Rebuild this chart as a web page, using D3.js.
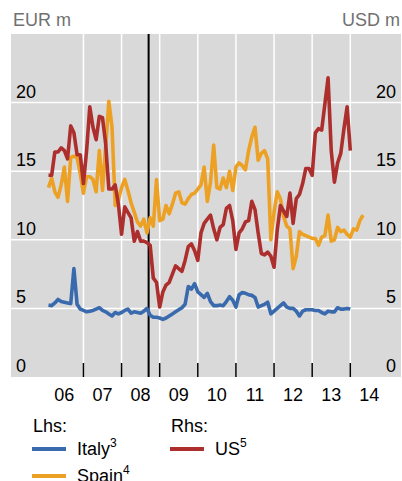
<!DOCTYPE html>
<html>
<head>
<meta charset="utf-8">
<script src="https://cdn.jsdelivr.net/npm/d3@7"></script>
<style>
  body { margin: 0; background: #fff; }
  text { font-family: "Liberation Sans", Arial, sans-serif; }
</style>
</head>
<body>
<svg id="drawing_region"></svg>
<script>
// monthly values, first point Feb 2006
const italy = [5.25, 5.2, 5.4, 5.65, 5.5, 5.45, 5.4, 5.35, 7.9, 5.3, 4.95, 4.85, 4.75, 4.8, 4.85, 4.95,
  5.05, 4.85, 4.75, 4.6, 4.45, 4.7, 4.6, 4.7, 4.85, 4.95, 4.65, 4.75, 4.7, 4.65, 4.8, 5.0,
  4.5, 4.35, 4.35, 4.3, 4.2, 4.3, 4.45, 4.6, 4.75, 4.9, 5.05, 5.3, 6.6, 6.4, 6.8, 6.2,
  6.0, 5.8, 6.1, 5.5, 5.2, 5.2, 5.25, 5.2, 5.5, 5.85, 5.6, 5.1, 6.0, 6.15, 6.1, 6.0,
  5.95, 5.8, 5.1, 5.2, 5.3, 5.45, 4.6, 4.8, 5.0, 5.2, 5.4, 5.1, 5.0, 5.0, 4.8, 4.45,
  4.8, 4.9, 4.9, 4.9, 4.85, 4.85, 4.7, 4.6, 4.8, 4.75, 4.75, 5.05, 4.95, 4.95, 5.0, 4.95];

const spain = [13.8, 14.5, 13.5, 13.1, 14.0, 15.3, 12.8, 16.0, 16.1, 16.0, 14.8, 13.4, 14.6, 14.6, 14.4, 13.5,
  16.5, 13.6, 16.8, 20.1, 18.2, 12.5, 12.9, 13.8, 14.4, 13.6, 12.7, 12.0, 11.3, 11.0, 11.5, 10.5,
  11.6, 11.0, 14.4, 11.4, 11.5, 12.5, 11.9, 12.6, 13.4, 13.5, 12.7, 12.6, 13.0, 13.3, 13.4, 13.7,
  14.0, 15.3, 12.8, 14.2, 16.9, 13.8, 13.7, 14.5, 13.8, 15.0, 13.6, 15.3, 15.6, 15.4, 15.1, 16.5,
  17.5, 18.2, 15.8, 16.3, 16.5, 15.9, 10.0, 12.0, 13.5, 13.0, 11.7, 11.0, 10.8, 7.9, 8.8, 10.6,
  10.4, 10.3, 10.2, 10.1, 10.1, 9.6, 10.2, 10.3, 11.8, 9.9, 10.0, 10.9, 10.6, 10.7, 10.4, 10.2,
  10.8, 10.7, 11.4, 11.8];

const us = [14.7, 14.7, 16.4, 16.4, 16.7, 16.5, 15.9, 18.3, 17.8, 16.2, 16.2, 14.1, 16.5, 19.7, 18.2, 17.3,
  19.0, 18.9, 17.0, 13.7, 13.7, 14.0, 12.6, 10.4, 12.4, 12.0, 11.6, 9.9, 10.6, 9.9, 9.9, 9.8,
  9.6, 7.2, 6.9, 5.1, 6.2, 6.7, 6.9, 7.5, 8.1, 7.9, 7.7, 8.5, 9.5, 9.7, 9.2, 8.5,
  10.5, 11.2, 11.5, 11.8, 10.8, 10.0, 10.9, 11.1, 12.3, 12.5, 11.4, 9.3, 10.5, 10.8, 11.3, 11.4,
  12.8, 12.2, 10.5, 9.0, 8.9, 9.1, 8.8, 8.0, 10.7, 12.5, 12.1, 11.7, 13.4, 11.2, 13.0, 13.3,
  14.1, 15.2, 15.2, 14.7, 17.8, 18.1, 18.0, 19.9, 21.8, 16.5, 14.2, 15.6, 16.3, 18.1, 19.7, 16.5];

const yearTicks = [2007, 2008, 2009, 2010, 2011, 2012, 2013, 2014];
const yearLabels = ["06", "07", "08", "09", "10", "11", "12", "13", "14"];
const yTicks = [0, 5, 10, 15, 20];
const lehman = 2008.71;

const width = 402, height = 481;
const plot = {left: 11, right: 401, top: 34, bottom: 377};

const svg = d3.select('#drawing_region')
    .attr('width', width)
    .attr('height', height);

const x = d3.scaleLinear().domain([2005.1, 2015.33]).range([plot.left, plot.right]);
const yL = d3.scaleLinear().domain([0, 25]).range([plot.bottom, plot.top]);
const yR = d3.scaleLinear().domain([0, 25]).range([plot.bottom, plot.top]);

const monthX = i => x(2006 + (1 + i) / 12);

svg.append('rect')
    .attr('x', plot.left).attr('y', plot.top)
    .attr('width', plot.right - plot.left)
    .attr('height', plot.bottom - plot.top)
    .attr('fill', '#d9d9d9');

// grid
svg.selectAll('.hgrid').data(yTicks.filter(d => d > 0)).join('line')
    .attr('x1', plot.left).attr('x2', plot.right)
    .attr('y1', d => yL(d)).attr('y2', d => yL(d))
    .attr('stroke', '#fff').attr('stroke-width', 1.5);

svg.selectAll('.vgrid').data(yearTicks).join('line')
    .attr('x1', d => x(d)).attr('x2', d => x(d))
    .attr('y1', plot.top).attr('y2', plot.bottom)
    .attr('stroke', '#fff').attr('stroke-width', 1.5);

// ticks at the bottom
svg.selectAll('.tick').data(yearTicks).join('line')
    .attr('x1', d => x(d)).attr('x2', d => x(d))
    .attr('y1', plot.bottom - 14).attr('y2', plot.bottom)
    .attr('stroke', '#000').attr('stroke-width', 1.5);

// series
const lineL = d3.line().x((d, i) => monthX(i)).y(d => yL(d));
const lineR = d3.line().x((d, i) => monthX(i)).y(d => yR(d));

const series = [
  {data: italy, line: lineL, color: '#3a6aae'},
  {data: spain, line: lineL, color: '#eda124'},
  {data: us, line: lineR, color: '#ad2f2d'}
];

// crisis marker
svg.append('line')
    .attr('x1', x(lehman)).attr('x2', x(lehman))
    .attr('y1', plot.top).attr('y2', plot.bottom)
    .attr('stroke', '#000').attr('stroke-width', 2);

series.forEach(s => {
  svg.append('path')
      .attr('d', s.line(s.data))
      .attr('fill', 'none')
      .attr('stroke', s.color)
      .attr('stroke-width', 3.6)
      .attr('stroke-linejoin', 'round');
});

// axis labels
svg.selectAll('.ylab').data(yTicks).join('text')
    .attr('x', 16).attr('y', d => yL(d) - 5)
    .attr('font-size', 18).attr('fill', '#000')
    .text(d => d);

svg.selectAll('.yrlab').data(yTicks).join('text')
    .attr('x', 396).attr('y', d => yR(d) - 5)
    .attr('text-anchor', 'end')
    .attr('font-size', 18).attr('fill', '#000')
    .text(d => d);

svg.selectAll('.xlab').data(yearLabels).join('text')
    .attr('x', (d, i) => x(2006.5 + i))
    .attr('y', 401)
    .attr('text-anchor', 'middle')
    .attr('font-size', 18).attr('fill', '#000')
    .text(d => d);

svg.append('text').attr('x', 13).attr('y', 26)
    .attr('font-size', 18).attr('fill', '#707070').text('EUR m');
svg.append('text').attr('x', 400).attr('y', 26)
    .attr('text-anchor', 'end')
    .attr('font-size', 18).attr('fill', '#707070').text('USD m');

// legend
const legend = [
  {x: 32, y: 449, name: 'Italy', sup: '3', color: '#3a6aae'},
  {x: 32, y: 476, name: 'Spain', sup: '4', color: '#eda124'},
  {x: 170, y: 449, name: 'US', sup: '5', color: '#ad2f2d'}
];

svg.append('text').attr('x', 33).attr('y', 432).attr('font-size', 18).text('Lhs:');
svg.append('text').attr('x', 171).attr('y', 432).attr('font-size', 18).text('Rhs:');

legend.forEach(l => {
  svg.append('line')
      .attr('x1', l.x).attr('x2', l.x + 34)
      .attr('y1', l.y).attr('y2', l.y)
      .attr('stroke', l.color).attr('stroke-width', 4);
  const t = svg.append('text')
      .attr('x', l.x + 45).attr('y', l.y + 6)
      .attr('font-size', 18);
  t.append('tspan').text(l.name);
  t.append('tspan').attr('font-size', 12).attr('dy', -8).text(l.sup);
});
</script>
</body>
</html>
